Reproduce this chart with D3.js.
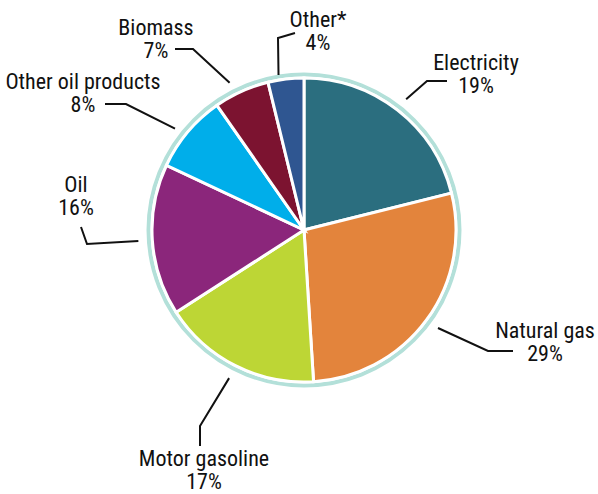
<!DOCTYPE html>
<html>
<head>
<meta charset="utf-8">
<script src="https://cdn.jsdelivr.net/npm/d3@7"></script>
<style>
  html, body { margin: 0; padding: 0; background: #fff; }
  svg text { font-family: "Liberation Sans Narrow", "Arial Narrow", "Roboto Condensed", sans-serif; font-size: 22px; fill: #111; }
</style>
</head>
<body>
<svg id="chart" width="598" height="494"></svg>
<script>
// ---- data ----
const categories = ["Electricity", "Natural gas", "Motor gasoline", "Oil", "Other oil products", "Biomass", "Other*"];
const shares     = [21.1, 27.9, 16.9, 16.1, 8.3, 5.9, 3.8];          // slice sizes as drawn
const pctLabels  = ["19%", "29%", "17%", "16%", "8%", "7%", "4%"];   // printed labels
const colors     = ["#2b6e7f", "#e3843c", "#bdd635", "#8b267b", "#00aeea", "#7c1330", "#2f5691"];

// ---- label layout (annotation placement) ----
const labelLayout = [
  { tx: 476, ty: 70,  r: 166, da: 0,    elbow: [427, 81],  end: [447, 81] },
  { tx: 545, ty: 338, r: 166, da: 0,    elbow: [488, 351], end: [513, 351] },
  { tx: 204, ty: 466, r: 166, da: 0,    elbow: [200, 426], end: [200, 446] },
  { tx: 76,  ty: 192, r: 166, da: 0,    elbow: [87, 244],  end: [81, 227] },
  { tx: 83,  ty: 89,  r: 164, da: -2,   elbow: [126, 104], end: [105, 104] },
  { tx: 156, ty: 35,  r: 165, da: -2.5, elbow: [193, 49],  end: [175, 49] },
  { tx: 318, ty: 27,  r: 157, da: -2.5, elbow: [278, 38],  end: [295, 33] }
];

const svg = d3.select("#chart");
const cx = 304, cy = 230;
const R = 152;

const g = svg.append("g").attr("transform", `translate(${cx},${cy})`);

const data = categories.map((c, i) => ({ cat: c, value: shares[i], pct: pctLabels[i], color: colors[i], lay: labelLayout[i] }));

const pie = d3.pie().value(d => d.value).sort(null);
const arc = d3.arc().innerRadius(0).outerRadius(R);
const arcs = pie(data);

// outer ring
g.append("circle")
  .attr("r", 155.5)
  .attr("fill", "none")
  .attr("stroke", "#b3e0d9")
  .attr("stroke-width", 4);

g.selectAll("path.slice")
  .data(arcs)
  .join("path")
  .attr("class", "slice")
  .attr("d", arc)
  .attr("fill", d => d.data.color)
  .attr("stroke", "#fff")
  .attr("stroke-width", 3)
  .attr("stroke-linejoin", "miter");

// leader lines and labels
arcs.forEach(a => {
  const L = a.data.lay;
  const ang = (a.startAngle + a.endAngle) / 2 + L.da * Math.PI / 180;
  const sx = cx + L.r * Math.sin(ang);
  const sy = cy - L.r * Math.cos(ang);
  svg.append("polyline")
    .attr("points", [[sx, sy], L.elbow, L.end].map(p => p.join(",")).join(" "))
    .attr("fill", "none")
    .attr("stroke", "#111")
    .attr("stroke-width", 2);
  const t = svg.append("text")
    .attr("x", L.tx)
    .attr("y", L.ty)
    .attr("text-anchor", "middle");
  t.append("tspan").attr("x", L.tx).text(a.data.cat);
  t.append("tspan").attr("x", L.tx).attr("dy", 23).text(a.data.pct);
});
</script>
</body>
</html>
